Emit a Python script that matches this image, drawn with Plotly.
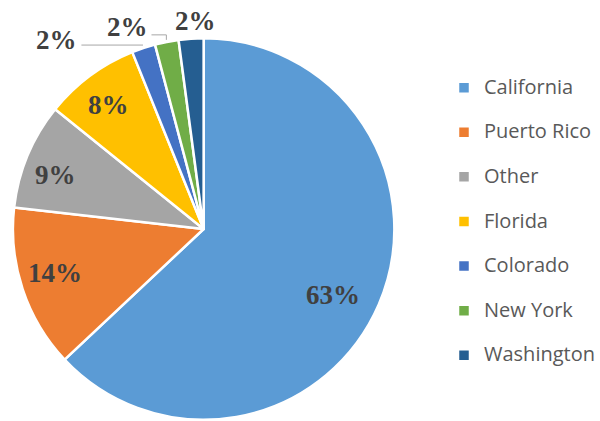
import math
import plotly.graph_objects as go

# ---- data ----
states = ["California", "Puerto Rico", "Other", "Florida", "Colorado", "New York", "Washington"]
shares = [63.0, 13.8, 9.0, 8.1, 2.0, 2.0, 2.1]
colors = ["#5B9BD5", "#ED7D31", "#A5A5A5", "#FFC000", "#4472C4", "#70AD47", "#255E91"]

# ---- layout constants (pixels) ----
W, H = 600, 421
CX, CY, R = 205, 229, 190
LABEL_COLOR = "#404040"
LINE_COLOR = "#A6A6A6"
LABEL_FONT = dict(family="Liberation Serif", size=27, color=LABEL_COLOR, weight="bold")
# (radial fraction, angular offset in degrees) for labels drawn inside slices
inside_pos = {"California": (0.77, 3.5), "Puerto Rico": (0.82, 2.0),
              "Other": (0.835, -2.8), "Florida": (0.825, -1.2)}


def px(x, y):
    return x / W, 1 - y / H


total = sum(shares)
mids = []
cum = 0.0
for v in shares:
    mids.append((cum + v / 2) / total * 2 * math.pi)
    cum += v


def polar(theta, rf):
    return CX + rf * R * math.sin(theta), CY - rf * R * math.cos(theta)


pct = [f"{round(v / total * 100)}%" for v in shares]

DR = R + 2  # plotly draws the pie slightly inside its domain
fig = go.Figure(
    go.Pie(
        labels=[f"<span style='font-size:20px'>{s}</span><br> " for s in states],
        values=shares,
        sort=False,
        direction="clockwise",
        rotation=0,
        textinfo="none",
        hoverinfo="skip",
        marker=dict(colors=colors, line=dict(color="white", width=2.5)),
        domain=dict(x=[(CX - DR) / W, (CX + DR) / W],
                    y=[max(0.0, 1 - (CY + DR) / H), 1 - (CY - DR) / H]),
    )
)

annotations = []
shapes = []


def add_text(x, y, text, xanchor="center"):
    ax, ay = px(x, y)
    annotations.append(dict(x=ax, y=ay, xref="paper", yref="paper", text=text, showarrow=False,
                            xanchor=xanchor, yanchor="middle", font=LABEL_FONT))


def add_line(points):
    path = ""
    for i, (x, y) in enumerate(points):
        a, b = px(x, y)
        path += ("M" if i == 0 else "L") + f"{a},{b} "
    shapes.append(dict(type="path", path=path.strip(), xref="paper", yref="paper",
                       line=dict(color=LINE_COLOR, width=1)))


for i, s in enumerate(states):
    if s in inside_pos:
        rf, dth = inside_pos[s]
        x, y = polar(mids[i] + math.radians(dth), rf)
        add_text(x, y, pct[i])

# Colorado: horizontal leader line to the left
i = states.index("Colorado")
ex, ey = polar(mids[i], 1.02)
add_line([(ex, ey), (ex - 62, ey)])
add_text(ex - 64, ey - 5, pct[i], xanchor="right")

# New York: elbow leader line
i = states.index("New York")
ex, ey = polar(mids[i], 1.02)
add_line([(ex, ey + 1), (ex, ey - 4), (ex - 15, ey - 4)])
add_text(ex - 16, ey - 12, pct[i], xanchor="right")

# Washington: label right above the slice
i = states.index("Washington")
ex, ey = polar(mids[i], 1.0)
add_text(ex + 4, ey - 18, pct[i])

fig.update_layout(
    width=W, height=H,
    margin=dict(l=0, r=0, t=0, b=0),
    paper_bgcolor="white",
    annotations=annotations,
    shapes=shapes,
    showlegend=True,
    legend=dict(
        x=0.745, y=0.832, xanchor="left", yanchor="top",
        font=dict(family="Open Sans", size=16, color="#595959"),
        valign="top",
        bgcolor="rgba(0,0,0,0)",
        itemclick=False, itemdoubleclick=False,
    ),
)

fig.write_html("out.html", config={"displayModeBar": False},
               post_script="document.body.style.margin='0px';")
